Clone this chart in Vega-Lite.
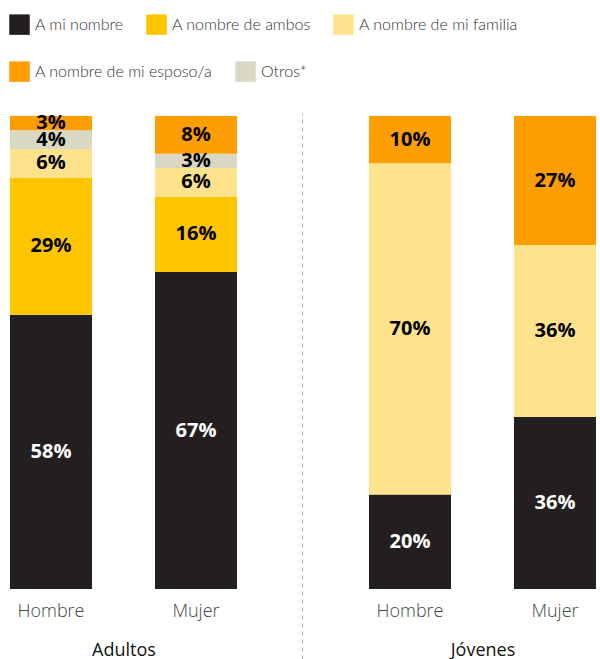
{
  "$schema": "https://vega.github.io/schema/vega-lite/v6.json",
  "padding": {"left": 9, "top": 14, "right": 5, "bottom": 0},
  "bounds": "flush",
  "spacing": 132,
  "datasets": {
    "d": [
      {"grupo": "Adultos", "sexo": "Hombre", "tipo": "A mi nombre", "orden": 1, "pct": 0.58},
      {"grupo": "Adultos", "sexo": "Hombre", "tipo": "A nombre de ambos", "orden": 2, "pct": 0.29},
      {"grupo": "Adultos", "sexo": "Hombre", "tipo": "A nombre de mi familia", "orden": 3, "pct": 0.06},
      {"grupo": "Adultos", "sexo": "Hombre", "tipo": "Otros*", "orden": 4, "pct": 0.04},
      {"grupo": "Adultos", "sexo": "Hombre", "tipo": "A nombre de mi esposo/a", "orden": 5, "pct": 0.03},
      {"grupo": "Adultos", "sexo": "Mujer", "tipo": "A mi nombre", "orden": 1, "pct": 0.67},
      {"grupo": "Adultos", "sexo": "Mujer", "tipo": "A nombre de ambos", "orden": 2, "pct": 0.16},
      {"grupo": "Adultos", "sexo": "Mujer", "tipo": "A nombre de mi familia", "orden": 3, "pct": 0.06},
      {"grupo": "Adultos", "sexo": "Mujer", "tipo": "Otros*", "orden": 4, "pct": 0.03},
      {"grupo": "Adultos", "sexo": "Mujer", "tipo": "A nombre de mi esposo/a", "orden": 5, "pct": 0.08},
      {"grupo": "Jóvenes", "sexo": "Hombre", "tipo": "A mi nombre", "orden": 1, "pct": 0.20},
      {"grupo": "Jóvenes", "sexo": "Hombre", "tipo": "A nombre de mi familia", "orden": 3, "pct": 0.70},
      {"grupo": "Jóvenes", "sexo": "Hombre", "tipo": "A nombre de mi esposo/a", "orden": 5, "pct": 0.10},
      {"grupo": "Jóvenes", "sexo": "Mujer", "tipo": "A mi nombre", "orden": 1, "pct": 0.36},
      {"grupo": "Jóvenes", "sexo": "Mujer", "tipo": "A nombre de mi familia", "orden": 3, "pct": 0.36},
      {"grupo": "Jóvenes", "sexo": "Mujer", "tipo": "A nombre de mi esposo/a", "orden": 5, "pct": 0.27}
    ]
  },
  "hconcat": [
    {
      "data": {"name": "d"},
      "width": 227,
      "height": 473,
      "transform": [
        {"filter": "datum.grupo == 'Adultos'"},
        {"stack": "pct", "groupby": ["sexo"], "sort": [{"field": "orden"}], "as": ["y0", "y1"], "offset": "normalize"},
        {"calculate": "(datum.y0 + datum.y1) / 2", "as": "ymid"}
      ],
      "encoding": {
        "x": {
          "field": "sexo", "type": "nominal", "sort": ["Hombre", "Mujer"],
          "scale": {"paddingInner": 0.4345, "paddingOuter": 0},
          "axis": {"title": "Adultos"}
        }
      },
      "layer": [
        {
          "mark": {"type": "bar"},
          "encoding": {
            "y": {"field": "y0", "type": "quantitative", "scale": {"domain": [0, 1]}, "axis": null},
            "y2": {"field": "y1"},
            "color": {
              "field": "tipo", "type": "nominal",
              "scale": {
                "domain": ["A mi nombre", "A nombre de ambos", "A nombre de mi familia", "A nombre de mi esposo/a", "Otros*"],
                "range": ["#231F20", "#FFC600", "#FFE38C", "#FF9E00", "#D9D8C3"]
              },
              "legend": {
                "orient": "none", "legendX": -1, "legendY": -102, "direction": "horizontal", "columns": 3,
                "values": ["A mi nombre", "A nombre de ambos", "A nombre de mi familia"]
              }
            }
          }
        },
        {
          "mark": {"type": "text", "font": "Open Sans", "fontSize": 20, "fontWeight": "bold"},
          "encoding": {
            "y": {"field": "ymid", "type": "quantitative"},
            "text": {"field": "pct", "type": "quantitative", "format": ".0%"},
            "color": {"condition": {"test": "datum.tipo == 'A mi nombre'", "value": "#ffffff"}, "value": "#000000"}
          }
        }
      ]
    },
    {
      "data": {"name": "d"},
      "width": 227,
      "height": 473,
      "transform": [
        {"filter": "datum.grupo == 'Jóvenes'"},
        {"stack": "pct", "groupby": ["sexo"], "sort": [{"field": "orden"}], "as": ["y0", "y1"], "offset": "normalize"},
        {"calculate": "(datum.y0 + datum.y1) / 2", "as": "ymid"}
      ],
      "encoding": {
        "x": {
          "field": "sexo", "type": "nominal", "sort": ["Hombre", "Mujer"],
          "scale": {"paddingInner": 0.4345, "paddingOuter": 0},
          "axis": {"title": "Jóvenes"}
        }
      },
      "layer": [
        {
          "mark": {"type": "bar"},
          "encoding": {
            "y": {"field": "y0", "type": "quantitative", "scale": {"domain": [0, 1]}, "axis": null},
            "y2": {"field": "y1"},
            "color": {
              "field": "tipo", "type": "nominal",
              "scale": {
                "domain": ["A mi nombre", "A nombre de ambos", "A nombre de mi familia", "A nombre de mi esposo/a", "Otros*"],
                "range": ["#231F20", "#FFC600", "#FFE38C", "#FF9E00", "#D9D8C3"]
              },
              "legend": {
                "orient": "none", "legendX": -360, "legendY": -55, "direction": "horizontal", "columns": 2,
                "values": ["A nombre de mi esposo/a", "Otros*"]
              }
            }
          }
        },
        {
          "mark": {"type": "text", "font": "Open Sans", "fontSize": 20, "fontWeight": "bold"},
          "encoding": {
            "y": {"field": "ymid", "type": "quantitative", "scale": {"domain": [0, 1]}, "axis": null},
            "text": {"field": "pct", "type": "quantitative", "format": ".0%"},
            "color": {"condition": {"test": "datum.tipo == 'A mi nombre'", "value": "#ffffff"}, "value": "#000000"}
          }
        },
        {
          "mark": {"type": "rule", "opacity": 0},
          "encoding": {
            "y": {
              "datum": 0, "type": "quantitative",
              "scale": {"domain": [0, 1], "range": [{"expr": "height + 70"}, -3]},
              "axis": {
                "orient": "left", "offset": 67, "title": null, "labels": false, "ticks": false, "grid": false,
                "domain": true, "domainDash": [4, 4], "domainColor": "#AAAAAA", "domainWidth": 1
              }
            }
          }
        }
      ],
      "resolve": {"scale": {"y": "independent"}, "axis": {"y": "independent"}}
    }
  ],
  "resolve": {"scale": {"color": "independent"}, "legend": {"color": "independent"}},
  "config": {
    "view": {"stroke": null},
    "legend": {
      "title": null, "symbolType": "square", "symbolSize": 420, "symbolStrokeWidth": 0,
      "symbolOpacity": 1, "labelFont": "Lato", "labelFontSize": 16, "labelFontWeight": 300, "labelColor": "#333",
      "labelLimit": 300, "labelOffset": 5, "columnPadding": 22, "padding": 0
    },
    "axisX": {
      "domain": false, "ticks": false, "labelAngle": 0,
      "labelFont": "Open Sans", "labelFontSize": 18, "labelFontWeight": 300, "labelColor": "#444",
      "labelPadding": 13,
      "titleFont": "Open Sans", "titleFontSize": 18, "titleFontWeight": "normal", "titleColor": "#111",
      "titlePadding": 21
    }
  }
}
